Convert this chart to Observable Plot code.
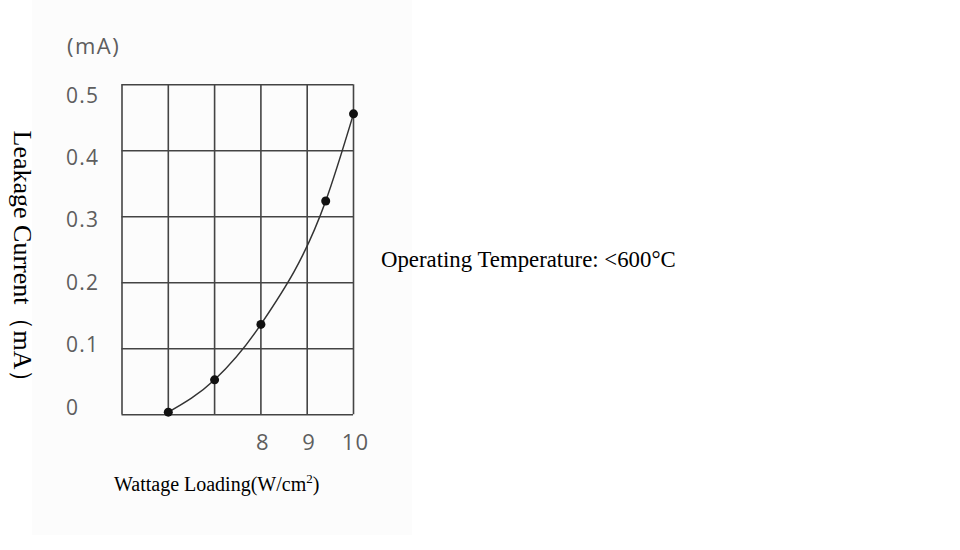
<!DOCTYPE html>
<html>
<head>
<meta charset="utf-8">
<script src="https://cdn.jsdelivr.net/npm/d3@7"></script>
<script src="https://cdn.jsdelivr.net/npm/@observablehq/plot@0.6"></script>
<style>
  html, body { margin: 0; padding: 0; background: #ffffff; }
  #wrap { position: relative; width: 960px; height: 550px; overflow: hidden; }
  #bg { position: absolute; left: 32px; top: 0; width: 380px; height: 535px; background: #fcfcfc; }
  #chart { position: absolute; left: 0; top: 0; }
  #chart svg text { letter-spacing: 1.2px; }
  .lbl { position: absolute; white-space: nowrap; }
  #unit { left: 67px; top: 30px; font-family: "Open Sans", "Noto Sans", sans-serif; font-size: 22px; color: #5e5e5e; letter-spacing: 1.5px; }
  #ylab { left: 22px; top: 263px; transform: translate(-50%, -50%) rotate(90deg); font-family: "Liberation Serif", "DejaVu Serif", serif; font-size: 26px; color: #000; }
  #xlab { left: 114px; top: 473px; font-family: "Liberation Serif", serif; font-size: 20px; color: #000; }
  #xlab sup { font-size: 13px; vertical-align: 8px; line-height: 0; }
  #note { left: 381px; top: 247px; font-family: "Liberation Serif", serif; font-size: 22.8px; color: #000; }
</style>
</head>
<body>
<div id="wrap">
  <div id="bg"></div>
  <div id="chart"></div>
  <div class="lbl" id="unit">(mA)</div>
  <div class="lbl" id="ylab">Leakage Current（mA）</div>
  <div class="lbl" id="xlab">Wattage Loading(W/cm<sup>2</sup>)</div>
  <div class="lbl" id="note">Operating Temperature: &lt;600°C</div>
</div>
<script>
// Data
const wattage = [6, 7, 8, 9.4, 10];
const leakage = [0.004, 0.053, 0.137, 0.324, 0.456];
const xGrid = [5, 6, 7, 8, 9, 10];
const xTickLabels = [8, 9, 10];
const yTicks = [0, 0.1, 0.2, 0.3, 0.4, 0.5];

const pts = wattage.map((w, i) => ({w, mA: leakage[i]}));

const tickFont = "'Open Sans', 'Noto Sans', sans-serif";

const yAxisMarks = yTicks.map(v => Plot.axisY([v], {
  anchor: "left",
  tickSize: 0,
  tickPadding: 56,
  textAnchor: "start",
  dy: -7 + 36 * v,
  tickFormat: d => d === 0 ? "0" : d3.format(".1f")(d),
  fontSize: 21,
  fill: "#5e5e5e",
  fontFamily: tickFont,
  label: null
}));

const chart = Plot.plot({
  width: 960,
  height: 550,
  marginLeft: 121.5,
  marginRight: 607,
  marginTop: 84.3,
  marginBottom: 135.7,
  style: {background: "transparent", overflow: "visible"},
  x: {domain: [5, 10]},
  y: {domain: [0, 0.5]},
  marks: [
    Plot.ruleX(xGrid, {stroke: "#444", strokeWidth: 1.6}),
    Plot.ruleY(yTicks, {stroke: "#444", strokeWidth: 1.6}),
    ...yAxisMarks,
    Plot.axisX(xTickLabels, {
      anchor: "bottom",
      tickSize: 0,
      tickPadding: 20,
      dx: 2,
      fontSize: 22,
      fill: "#5e5e5e",
      fontFamily: tickFont,
      label: null
    }),
    Plot.line(pts, {x: "w", y: "mA", curve: "monotone-x", stroke: "#333", strokeWidth: 1.5}),
    Plot.dot(pts, {x: "w", y: "mA", r: 4.5, fill: "#111", stroke: "none"})
  ]
});
document.getElementById("chart").appendChild(chart);
</script>
</body>
</html>
